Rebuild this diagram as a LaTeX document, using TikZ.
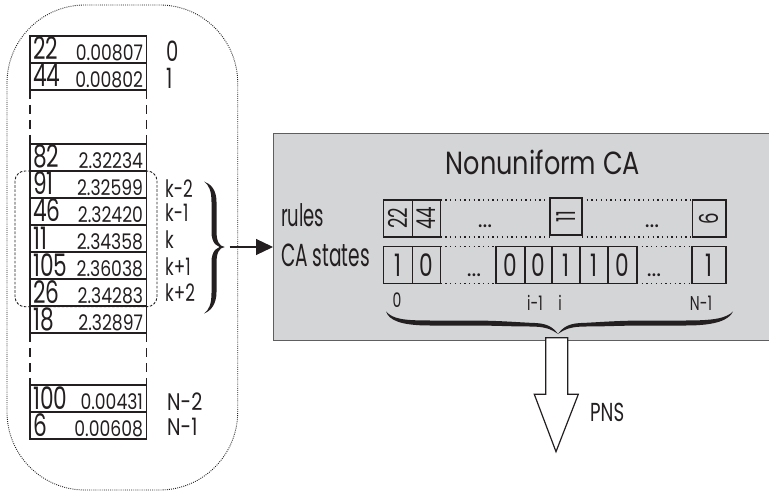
\documentclass[tikz,border=0pt]{standalone}
\usepackage{graphicx}
\usepackage{fontspec}
\setmainfont{Poppins}
\newfontfamily\fA{Poppins}[FakeStretch=0.58]
\newfontfamily\fB{Poppins}[FakeStretch=0.7]
\newfontfamily\fC{Poppins}[FakeStretch=0.8]
\usetikzlibrary{arrows.meta}
\definecolor{boxgray}{HTML}{D4D5D7}
\definecolor{boxedge}{HTML}{5E5E60}
\definecolor{ink}{HTML}{231F20}
\newcommand{\rtxt}[1]{\rotatebox{90}{\fB\fontsize{26}{26}\selectfont #1}}
\begin{document}
\begin{tikzpicture}[x=1pt,y=-1pt,
  tline/.style={draw=ink, line width=1.25pt},
  rowbox/.style={draw=ink, line width=1.25pt, minimum width=116.7pt, minimum height=27pt, inner sep=0pt, outer sep=0pt, anchor=north west},
  bignum/.style={font=\fB\fontsize{31}{31}\selectfont, anchor=base west, inner sep=0pt, text=ink},
  valnum/.style={font=\fC\fontsize{21.5}{21.5}\selectfont, anchor=base east, inner sep=0pt, text=ink},
  idxbig/.style={font=\fB\fontsize{28}{28}\selectfont, anchor=base west, inner sep=0pt, text=ink},
  idxk/.style={font=\fB\fontsize{24}{24}\selectfont, anchor=base west, inner sep=0pt, text=ink},
  idxn/.style={font=\fC\fontsize{24}{24}\selectfont, anchor=base west, inner sep=0pt, text=ink},
  cell/.style={draw=ink, line width=1.25pt, inner sep=0pt, outer sep=0pt, text=ink},
  celltxt/.style={font=\fB\fontsize{31}{31}\selectfont},
  dotline/.style={draw=ink, line width=1.3pt, dash pattern=on 1.3pt off 3.4pt},
  ellips/.style={font=\fontsize{23}{23}\selectfont, anchor=base, inner sep=0pt, text=ink},
  sublab/.style={font=\fB\fontsize{20}{20}\selectfont, anchor=base, inner sep=0pt, text=ink},
  lab/.style={font=\fA\fontsize{32}{32}\selectfont, anchor=base west, inner sep=0pt, text=ink}
]
\useasboundingbox (0,0) rectangle (769,492);

% big dotted outline
\draw[ink, line width=0.9pt, dash pattern=on 0.9pt off 1.2pt, rounded corners=78pt] (7,5) rectangle (237.7,490);

% table rows
\foreach \ry/\a/\b [count=\i] in {36/22/0.00807, 63/44/0.00802, 144/82/2.32234, 171/91/2.32599, 198/46/2.32420, 225/11/2.34358, 252/105/2.36038, 279/26/2.34283, 306/18/2.32897, 385/100/0.00431, 412/6/0.00608}{
  \node[rowbox] (row\i) at (30,\ry) {};
  \node[bignum] (n\i) at ([shift={(3,-3)}]row\i.south west) {\a};
  \node[valnum] (v\i) at ([shift={(-3.5,-2.5)}]row\i.south east) {\b};
}
\draw[tline, dash pattern=on 9pt off 6pt] (row2.south west) -- (row3.north west);
\draw[tline, dash pattern=on 9pt off 6pt] (row2.south east) -- (row3.north east);
\draw[tline, dash pattern=on 9pt off 6pt] (row9.south west) -- (row10.north west);
\draw[tline, dash pattern=on 9pt off 6pt] (row9.south east) -- (row10.north east);

% index labels
\node[idxbig] (i0) at (166,62) {0};
\node[idxbig] (i1) at (166,89) {1};
\node[idxk] (ik2) at (165,197) {k-2};
\node[idxk] (ik1) at (165,222) {k-1};
\node[idxk] (ik) at (165,248.5) {k};
\node[idxk] (ikp1) at (165,275) {k+1};
\node[idxk] (ikp2) at (165,301.5) {k+2};
\node[idxn] (in2) at (167,410.7) {N-2};
\node[idxn] (in1) at (167,435) {N-1};

% inner dashed neighbourhood
\draw[ink, line width=0.9pt, dash pattern=on 2.6pt off 1.6pt, rounded corners=10pt] (15,171) rectangle (157,306.7);

% vertical brace
\fill[ink] (204,181.5) .. controls (211,184) and (216.5,190) .. (216.5,202) -- (216.5,231) .. controls (216.5,241) and (219,246) .. (224.5,247)
  .. controls (217,248.5) and (211.5,243) .. (211.5,232) -- (211.5,202) .. controls (211.5,191) and (209,185) .. (204,181.5) -- cycle;
\fill[ink] (224.5,247) .. controls (219,248) and (216.5,253) .. (216.5,263) -- (216.5,292) .. controls (216.5,304) and (211,311) .. (204,313.5)
  .. controls (209,310) and (211.5,304) .. (211.5,293) -- (211.5,262) .. controls (211.5,251) and (217,245.5) .. (224.5,247) -- cycle;
\coordinate (btip) at (224.5,247);
\coordinate (astart) at (229.5,247);

% gray CA box
\node[draw=boxedge, fill=boxgray, line width=1.3pt, anchor=north west, minimum width=505pt, minimum height=207pt, inner sep=0pt] (ca) at (273,133) {};
\draw[ink, line width=1.2pt, -{Triangle[length=17pt,width=16pt]}] (astart) -- (ca.west |- astart);

\node[font=\fC\fontsize{32}{32}\selectfont, anchor=base, inner sep=0pt, text=ink] (title) at (543,175) {Nonuniform CA};
\node[lab, font=\fA\fontsize{31}{31}\selectfont] (rules) at (281,226.7) {rules};
\node[lab] (castates) at (281,266.7) {CA states};

% rules row
\node[cell, minimum width=29pt, minimum height=37pt] (r22) at (397.8,218.5) {\rtxt{22}};
\node[cell, minimum width=28.4pt, minimum height=37pt] (r44) at (426.5,218.5) {\rtxt{44}};
\node[cell, minimum width=32pt, minimum height=37pt] (r11) at (566,216.5) {\rtxt{11}};
\node[cell, minimum width=33.3pt, minimum height=37pt] (r6) at (709.3,218.5) {\rtxt{6}};
\draw[dotline] (r44.north east) -- (r44.north east -| r11.west);
\draw[dotline] (r44.south east) -- (r44.south east -| r11.west);
\draw[dotline] (r11.east |- r6.north) -- (r6.north west);
\draw[dotline] (r11.east |- r6.south) -- (r6.south west);
\node[ellips] (e1) at (485,228) {...};
\node[ellips] (e2) at (652,228) {...};

% CA states row
\node[cell, celltxt, minimum width=29pt, minimum height=36.6pt] (s1) at (397.8,265) {1};
\node[cell, celltxt, minimum width=28.4pt, minimum height=36.6pt] (s0) at (426.5,265) {0};
\node[cell, celltxt, minimum width=29pt, minimum height=36.6pt] (c1) at (510.5,265) {0};
\node[cell, celltxt, minimum width=27pt, minimum height=36.6pt] (c2) at (538.5,265) {0};
\node[cell, celltxt, minimum width=28pt, minimum height=36.6pt] (c3) at (566,265) {1};
\node[cell, celltxt, minimum width=28pt, minimum height=36.6pt] (c4) at (594,265) {1};
\node[cell, celltxt, minimum width=29pt, minimum height=36.6pt] (c5) at (622.5,265) {0};
\node[cell, celltxt, minimum width=34pt, minimum height=36.6pt] (sN) at (709,265) {1};
\draw[dotline] (s0.north east) -- (c1.north west);
\draw[dotline] (s0.south east) -- (c1.south west);
\draw[dotline] (c5.north east) -- (sN.north west);
\draw[dotline] (c5.south east) -- (sN.south west);
\node[ellips] (e3) at (474,276.5) {...};
\node[ellips] (e4) at (654,276.5) {...};

% sub labels
\node[sublab] (l0) at (397,307) {0};
\node[sublab] (li1) at (535,310) {i-1};
\node[sublab] (li) at (560,310) {i};
\node[sublab] (lN) at (701,310) {N-1};

% horizontal brace
\fill[ink] (386,311.5) .. controls (393,319) and (403,320.5) .. (430,320.5) -- (470,320.5) .. controls (500,320.5) and (520,322.5) .. (535,323)
  .. controls (547,323.5) and (553,327) .. (558,334)
  .. controls (551,329) and (545,326.5) .. (530,326.5) .. controls (510,326.5) and (495,325.5) .. (470,325.5) -- (430,325.5) .. controls (400,325.5) and (389,320) .. (386,311.5) -- cycle;
\fill[ink] (558,334) .. controls (563,327) and (569,323.5) .. (581,323) .. controls (596,322.5) and (616,320.5) .. (646,320.5) -- (686,320.5) .. controls (713,320.5) and (726,318.5) .. (733,311.5)
  .. controls (729,320) and (716,325.5) .. (686,325.5) -- (646,325.5) .. controls (621,325.5) and (606,326.5) .. (586,326.5) .. controls (571,326.5) and (565,329) .. (558,334) -- cycle;
\coordinate (htip) at (558,334);

% PNS block arrow
\draw[ink, fill=white, line width=1.2pt, line join=miter] (545.7,337.7) -- (567.7,337.7) -- (567.7,394.3) -- (578.3,394.3) -- (556,451.7) -- (534.3,394.3) -- (545.7,394.3) -- cycle;
\node[font=\fB\fontsize{26}{26}\selectfont, anchor=base west, inner sep=0pt, text=ink] (pns) at (590,421.7) {PNS};
\end{tikzpicture}
\end{document}
